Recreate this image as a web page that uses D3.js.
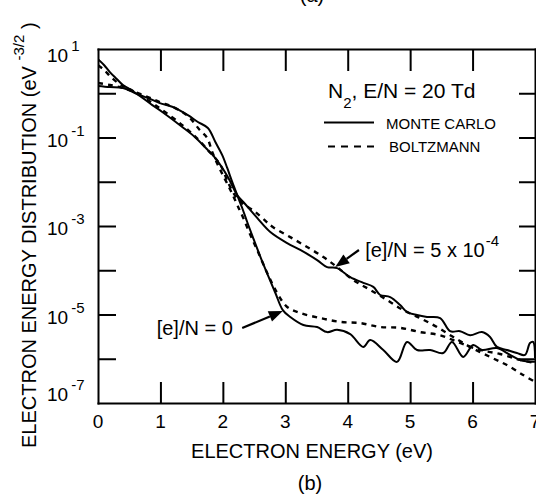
<!DOCTYPE html>
<html>
<head>
<meta charset="utf-8">
<script src="https://cdn.jsdelivr.net/npm/d3@7"></script>
<style>
  body { margin: 0; background: #fff; }
  svg { display: block; font-family: "Liberation Sans", Arial, Helvetica, sans-serif; }
</style>
</head>
<body>
<svg id="grafico" width="536" height="498"></svg>
<script>
/**
 * Electron energy distribution in N2, E/N = 20 Td
 * Monte Carlo (solid) against Boltzmann (dashed), for [e]/N = 0 and 5 x 10^-4
 */

/* Data: [energy (eV), distribution (eV^-3/2)] */
const monteCarloZero = [
    [0, 1.46], [0.19, 1.38], [0.40, 1.32], [0.59, 1.01], [0.80, 0.78], [0.99, 0.60],
    [1.20, 0.49], [1.44, 0.32], [1.60, 0.224], [1.76, 0.164], [1.88, 0.079], [1.99, 0.040],
    [2.07, 0.0205], [2.15, 0.0099], [2.23, 0.0050], [2.31, 0.00255], [2.39, 0.00123],
    [2.48, 5.6e-4], [2.64, 1.46e-4], [2.84, 3.1e-5], [2.96, 1.26e-5], [3.08, 8.8e-6],
    [3.29, 5.8e-6], [3.51, 5.2e-6], [3.67, 4.0e-6], [3.83, 4.5e-6], [4.04, 3.6e-6],
    [4.25, 1.85e-6], [4.36, 2.65e-6], [4.57, 1.58e-6], [4.79, 8.5e-7], [4.95, 2.4e-6],
    [5.11, 1.58e-6], [5.32, 1.58e-6], [5.53, 1.35e-6], [5.67, 2.4e-6], [5.85, 1.1e-6],
    [6.01, 2.05e-6], [6.15, 1.58e-6], [6.39, 1.75e-6], [6.60, 1.22e-6], [6.76, 9.4e-7],
    [7.0, 8.5e-7]
]
const boltzmannZero = [
    [0, 1.71], [0.19, 1.54], [0.40, 1.32], [0.59, 1.07], [0.80, 0.82], [0.99, 0.63],
    [1.20, 0.49], [1.44, 0.306], [1.63, 0.148], [1.75, 0.097], [1.83, 0.047], [1.92, 0.0239],
    [2.00, 0.0142], [2.08, 0.0085], [2.16, 0.0050], [2.24, 0.0028], [2.32, 0.0016],
    [2.44, 6.3e-4], [2.55, 2.87e-4], [2.71, 8.7e-5], [2.87, 3.06e-5], [3.03, 1.48e-5],
    [3.24, 1.08e-5], [3.56, 8.3e-6], [3.88, 6.8e-6], [4.20, 6.4e-6], [4.52, 5.2e-6],
    [4.84, 5.0e-6], [5.16, 4.0e-6], [5.48, 3.4e-6], [5.80, 2.27e-6], [6.12, 1.58e-6],
    [6.44, 1.28e-6], [6.76, 9.4e-7], [7.0, 8.0e-7]
]
const monteCarloFive = [
    [0, 5.9], [0.10, 4.3], [0.19, 3.0], [0.30, 2.1], [0.40, 1.53], [0.50, 1.25], [0.67, 0.87],
    [0.87, 0.54], [1.03, 0.377], [1.35, 0.173], [1.55, 0.103], [1.76, 0.052], [1.88, 0.034],
    [2.08, 0.0128], [2.23, 0.0050], [2.36, 0.0031], [2.55, 0.00152], [2.76, 7.3e-4],
    [3.03, 4.1e-4], [3.24, 2.87e-4], [3.51, 1.7e-4], [3.67, 1.18e-4], [3.83, 1.12e-4],
    [4.04, 7.0e-5], [4.25, 5.2e-5], [4.41, 4.2e-5], [4.52, 2.76e-5], [4.68, 2.48e-5],
    [4.84, 1.64e-5], [4.95, 1.14e-5], [5.11, 9.7e-6], [5.27, 8.8e-6], [5.48, 8.3e-6],
    [5.64, 4.2e-6], [5.80, 4.2e-6], [5.96, 3.4e-6], [6.15, 4.0e-6], [6.28, 3.1e-6],
    [6.39, 1.85e-6], [6.55, 1.58e-6], [6.71, 1.35e-6], [6.84, 1.22e-6], [6.92, 2.27e-6],
    [6.97, 2.4e-6], [7.0, 1.04e-6]
]
const boltzmannFive = [
    [0, 4.3], [0.10, 3.35], [0.19, 2.45], [0.30, 1.8], [0.40, 1.46], [0.50, 1.25], [0.67, 0.91],
    [0.87, 0.60], [1.03, 0.42], [1.35, 0.191], [1.55, 0.108], [1.76, 0.052], [1.96, 0.024],
    [2.08, 0.0099], [2.20, 0.0048], [2.31, 0.0033], [2.52, 0.00207], [2.72, 0.00117],
    [2.80, 9.5e-4], [3.08, 5.6e-4], [3.35, 3.35e-4], [3.61, 1.99e-4], [3.83, 1.18e-4],
    [4.09, 6.0e-5], [4.36, 3.6e-5], [4.63, 2.13e-5], [4.89, 1.26e-5], [5.16, 8.3e-6],
    [5.43, 5.2e-6], [5.69, 3.1e-6], [5.96, 1.85e-6], [6.28, 1.1e-6], [6.55, 7.2e-7],
    [6.81, 4.3e-7], [7.0, 3.0e-7]
]

/* Ticks */
const energyLabels = [0, 1, 2, 3, 4, 5, 6, 7]
const energyTicks = [1, 2, 3, 4, 5, 6]
const decadeTicks = [1e0, 1e-1, 1e-2, 1e-3, 1e-4, 1e-5, 1e-6]
const labelExponents = [1, -1, -3, -5, -7]

/* Annotations: [energy, distribution] */
const arrowZero = [[2.31, 4.95e-6], [2.96, 1.2e-5]]
const arrowFive = [[4.18, 2.87e-4], [3.80, 1.18e-4]]
const textZero = [2.16, 3.44e-6]
const textFive = [4.28, 2.0e-4]

const svg = d3.select('#grafico')

const x = d3.scaleLinear().domain([0, 7]).range([98, 535])
const y = d3.scaleLog().domain([1e-7, 1e1]).range([403, 49])

/**
 * Draws one side of the frame with inward ticks
 * @param {Function} axis
 * @param {String} transform
 * @param {Number} size
 */
function drawAxis(axis, transform, size) {
    svg.append('g')
        .attr('transform', transform)
        .call(axis.tickSize(size).tickSizeOuter(0).tickFormat(''))
        .call(g => g.select('.domain').attr('stroke', '#000').attr('stroke-width', 2).attr('stroke-linecap', 'square'))
        .call(g => g.selectAll('.tick line').attr('stroke', '#000').attr('stroke-width', 2))
}

drawAxis(d3.axisBottom(x).tickValues(energyTicks), 'translate(0,403)', -21)
drawAxis(d3.axisTop(x).tickValues(energyTicks), 'translate(0,49)', -22)
drawAxis(d3.axisLeft(y).tickValues(decadeTicks), 'translate(98,0)', -18)
drawAxis(d3.axisRight(y).tickValues(decadeTicks), 'translate(535,0)', -16)

/* Tick labels */
svg.append('g')
    .attr('font-size', 19)
    .attr('text-anchor', 'middle')
    .selectAll('text')
    .data(energyLabels)
    .join('text')
    .attr('x', d => x(d))
    .attr('y', 428)
    .text(d => d)

let yLabels = svg.append('g').attr('font-size', 19)
labelExponents.forEach(e => {
    let base = Math.min(Math.max(y(Math.pow(10, e)) + 9, 62), 401)
    let t = yLabels.append('text').attr('x', 47).attr('y', base).text('10')
    t.append('tspan').attr('dx', 3).attr('dy', -11).attr('font-size', 15).text(e)
})

/* Axis titles */
svg.append('text')
    .attr('x', 312)
    .attr('y', 458)
    .attr('text-anchor', 'middle')
    .attr('font-size', 20)
    .text('ELECTRON ENERGY (eV)')

let yTitle = svg.append('text')
    .attr('transform', 'translate(36,448) rotate(-90)')
    .attr('font-size', 20)
    .text('ELECTRON ENERGY DISTRIBUTION (eV ')
yTitle.append('tspan').attr('dy', -12).attr('font-size', 15).text('-3/2')
yTitle.append('tspan').attr('dy', 12).text(' )')

svg.append('text').attr('x', 312).attr('y', 2).attr('text-anchor', 'middle').attr('font-size', 20).text('(a)')
svg.append('text').attr('x', 310).attr('y', 490).attr('text-anchor', 'middle').attr('font-size', 20).text('(b)')

/* Curves */
svg.append('clipPath').attr('id', 'zona')
    .append('rect').attr('x', 98).attr('y', 49).attr('width', 437).attr('height', 354)

const line = d3.line()
    .x(d => x(d[0]))
    .y(d => y(d[1]))
    .curve(d3.curveCatmullRom.alpha(0.5))

let curves = svg.append('g').attr('clip-path', 'url(#zona)').attr('fill', 'none').attr('stroke', '#000')

curves.selectAll('.mc')
    .data([monteCarloZero, monteCarloFive])
    .join('path')
    .attr('class', 'mc')
    .attr('d', line)
    .attr('stroke-width', 2)
    .attr('stroke-linejoin', 'round')

curves.selectAll('.bz')
    .data([boltzmannZero, boltzmannFive])
    .join('path')
    .attr('class', 'bz')
    .attr('d', line)
    .attr('stroke-width', 2.4)
    .attr('stroke-dasharray', '5,5')

/* Legend */
let legend = svg.append('g')
let title = legend.append('text').attr('x', 328).attr('y', 98).attr('font-size', 21).text('N')
title.append('tspan').attr('dy', 10).attr('font-size', 15).text('2')
title.append('tspan').attr('dy', -10).text(', E/N = 20 Td')

legend.append('line').attr('x1', 324).attr('x2', 374).attr('y1', 122.5).attr('y2', 122.5)
    .attr('stroke', '#000').attr('stroke-width', 2)
legend.append('line').attr('x1', 328).attr('x2', 374).attr('y1', 146.5).attr('y2', 146.5)
    .attr('stroke', '#000').attr('stroke-width', 2.2).attr('stroke-dasharray', '7,6')
legend.append('text').attr('x', 386).attr('y', 129).attr('font-size', 15).text('MONTE CARLO')
legend.append('text').attr('x', 389).attr('y', 152).attr('font-size', 15).text('BOLTZMANN')

/**
 * Arrow with a filled head, from the label towards the curve
 * @param {Array} points
 */
function drawArrow(points) {
    let [x0, y0] = [x(points[0][0]), y(points[0][1])]
    let [x1, y1] = [x(points[1][0]), y(points[1][1])]
    let ang = Math.atan2(y1 - y0, x1 - x0)
    let len = 14, half = 5.5
    let bx = x1 - len * Math.cos(ang), by = y1 - len * Math.sin(ang)
    svg.append('line').attr('x1', x0).attr('y1', y0).attr('x2', bx).attr('y2', by)
        .attr('stroke', '#000').attr('stroke-width', 2.2)
    svg.append('path')
        .attr('d', d3.line()([
            [x1, y1],
            [bx - half * Math.sin(ang), by + half * Math.cos(ang)],
            [bx + half * Math.sin(ang), by - half * Math.cos(ang)]
        ]) + 'Z')
        .attr('fill', '#000')
}

drawArrow(arrowZero)
drawArrow(arrowFive)

svg.append('text')
    .attr('x', x(textZero[0]))
    .attr('y', y(textZero[1]))
    .attr('text-anchor', 'end')
    .attr('font-size', 20)
    .text('[e]/N = 0')

let labelFive = svg.append('text')
    .attr('x', x(textFive[0]))
    .attr('y', y(textFive[1]))
    .attr('font-size', 20)
    .text('[e]/N = 5 x 10')
labelFive.append('tspan').attr('dx', 1).attr('dy', -11).attr('font-size', 15).text('-4')
</script>
</body>
</html>
